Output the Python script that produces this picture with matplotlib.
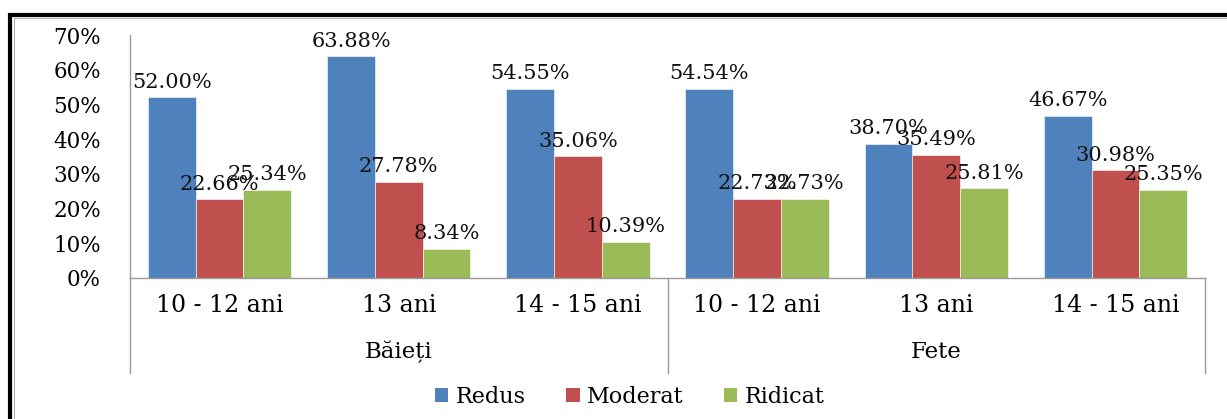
import matplotlib
matplotlib.use("Agg")
import matplotlib.pyplot as plt
from matplotlib.patches import Patch
from matplotlib.lines import Line2D

# Data
groups = ["Băieți", "Fete"]
age_labels = ["10 - 12 ani", "13 ani", "14 - 15 ani", "10 - 12 ani", "13 ani", "14 - 15 ani"]
series_names = ["Redus", "Moderat", "Ridicat"]
redus = [52.00, 63.88, 54.55, 54.54, 38.70, 46.67]
moderat = [22.66, 27.78, 35.06, 22.73, 35.49, 30.98]
ridicat = [25.34, 8.34, 10.39, 22.73, 25.81, 25.35]
y_ticks = [0, 10, 20, 30, 40, 50, 60, 70]

colors = ["#4F81BD", "#C0504D", "#9BBB59"]
FONT = "DejaVu Serif"

W, H = 1227, 419
fig = plt.figure(figsize=(W / 100, H / 100), dpi=100)
fig.patch.set_facecolor("white")

ax = fig.add_axes([130 / W, 1 - 278 / H, (1205 - 130) / W, (278 - 35) / H])

n = len(age_labels)
bw = 1 / 3.75
xs = list(range(n))
for k, (vals, col) in enumerate(zip([redus, moderat, ridicat], colors)):
    pos = [x + (k - 1) * bw for x in xs]
    ax.bar(pos, vals, width=bw, color=col, edgecolor="white", linewidth=0.4)
    for p, v in zip(pos, vals):
        ax.annotate(f"{v:.2f}%", (p, v), xytext=(0, 7), textcoords="offset points",
                    ha="center", va="baseline", fontsize=15, family=FONT, color="#111111")

ax.set_xlim(-0.5, n - 0.5)
ax.set_ylim(0, 70)
ax.set_yticks(y_ticks)
ax.set_yticklabels([f"{t}%" for t in y_ticks], family=FONT, fontsize=15.5)
ax.tick_params(axis="y", length=0, pad=21)
ax.set_xticks([])

for s in ["top", "right"]:
    ax.spines[s].set_visible(False)
for s in ["left", "bottom"]:
    ax.spines[s].set_color("#9a9a9a")
    ax.spines[s].set_linewidth(1.0)

tr = ax.get_xaxis_transform()
y_cat = (278 - 305) / 243
y_grp = (278 - 352) / 243
y_sep = (278 - 373) / 243
for x, lab in zip(xs, age_labels):
    ax.text(x, y_cat, lab, transform=tr, ha="center", va="center",
            fontsize=17, family=FONT)
for gi, g in enumerate(groups):
    ax.text(gi * 3 + 1, y_grp, g, transform=tr, ha="center", va="center",
            fontsize=16.5, family=FONT)
for xsep in [-0.5, 2.5, 5.5]:
    ax.add_line(Line2D([xsep, xsep], [0, y_sep], transform=tr, color="#9a9a9a",
                       linewidth=1.0, clip_on=False))

handles = [Patch(facecolor=c, edgecolor="none") for c in colors]
leg = fig.legend(handles, series_names, loc="center", bbox_to_anchor=(630 / W, 1 - 397 / H),
                 ncol=3, frameon=False, handlelength=0.6, handleheight=0.6,
                 handletextpad=0.35, columnspacing=1.8,
                 prop={"family": FONT, "size": 16})

# Outer frame of the chart
fig.add_artist(Line2D([8 / W, 1], [1 - 15.5 / H, 1 - 15.5 / H], transform=fig.transFigure,
                      color="black", linewidth=3.0, solid_capstyle="butt"))
fig.add_artist(Line2D([10 / W, 10 / W], [0, 1 - 13.5 / H], transform=fig.transFigure,
                      color="black", linewidth=3.0, solid_capstyle="butt"))
fig.add_artist(Line2D([13.5 / W, 1], [1 - 18 / H, 1 - 18 / H], transform=fig.transFigure,
                      color="#b0b0b0", linewidth=0.8))
fig.add_artist(Line2D([13.5 / W, 13.5 / W], [0, 1 - 18 / H], transform=fig.transFigure,
                      color="#b0b0b0", linewidth=0.8))

fig.savefig("out.png", dpi=100, facecolor="white")
